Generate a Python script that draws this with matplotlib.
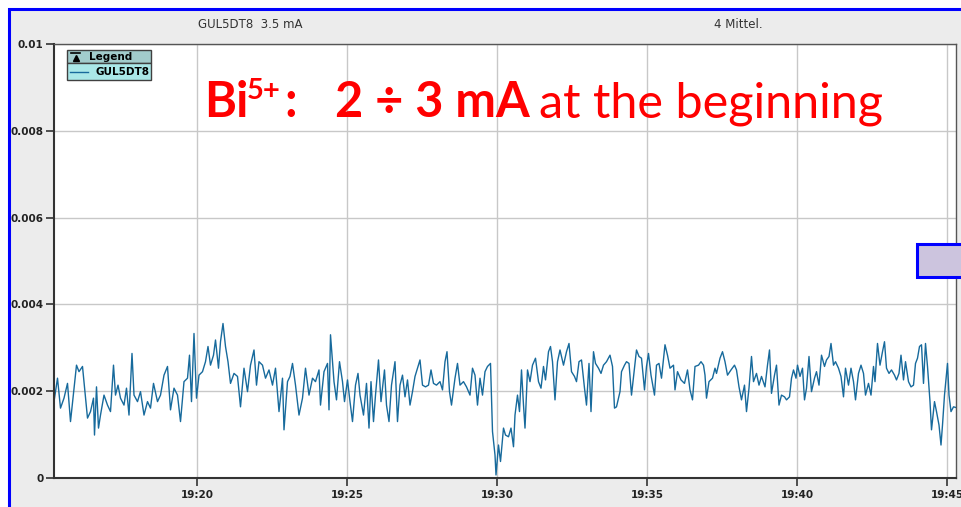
import numpy as np
import pandas as pd
import matplotlib
matplotlib.use('Agg')
import matplotlib.pyplot as plt
import matplotlib.dates as mdates
from matplotlib.patches import Rectangle
from matplotlib.lines import Line2D

# seconds after 19:15:00
t_sec = [14, 21, 27, 34, 41, 47, 54, 59, 64, 71, 77, 81, 87, 93, 95, 99, 103, 107, 114, 121,
         127, 133, 137, 142, 147, 154, 159, 164, 170, 174, 181, 187, 194, 201, 207, 213, 221, 227, 234, 241,
         247, 254, 261, 267, 274, 281, 285, 289, 294, 299, 304, 311, 317, 322, 327, 333, 337, 343, 347, 352,
         357, 362, 367, 374, 381, 387, 394, 401, 407, 414, 419, 424, 431, 437, 444, 451, 457, 464, 471, 474,
         481, 486, 491, 497, 504, 511, 517, 524, 531, 537, 544, 547, 554, 561, 564, 567, 574, 579, 585, 591,
         595, 601, 606, 611, 617, 622,
         626, 633, 639, 644, 648, 653, 657, 663, 668, 675, 679, 684, 689, 696, 701, 706, 711, 716, 721, 726,
         731, 736, 741, 746, 751, 757, 763, 768, 773, 779, 786, 791, 796, 800, 805, 809, 816, 821, 826, 833,
         839, 846, 851, 856, 861, 866, 871, 876, 881, 887, 891, 896, 898, 903, 907, 913, 917, 923, 928, 933,
         936, 941, 945, 949, 953, 956, 961, 966, 971, 977, 983, 988, 993, 997, 1003, 1007, 1011, 1016, 1021, 1026,
         1033, 1039, 1044, 1049, 1055, 1059, 1064, 1069, 1075, 1079, 1084, 1088, 1093, 1097, 1103, 1108, 1113, 1119, 1126, 1131,
         1135, 1139, 1146, 1149, 1155, 1159, 1164, 1169, 1175, 1179, 1184, 1189, 1195, 1199, 1203, 1208, 1215, 1219, 1224,
         1229, 1236, 1241, 1246, 1253, 1256, 1261, 1268, 1275, 1281, 1286, 1291, 1296, 1303, 1308, 1313, 1316, 1319, 1324, 1331,
         1336, 1339, 1346, 1351, 1356, 1361, 1368, 1375, 1379, 1384, 1389, 1395, 1399, 1404, 1409, 1413, 1419, 1424, 1429, 1436,
         1441, 1445, 1449, 1455, 1459, 1464, 1469, 1475, 1479, 1485, 1489, 1493, 1498, 1501, 1506, 1511, 1515, 1519, 1524, 1529,
         1535, 1539, 1544, 1549, 1555, 1559, 1564, 1568, 1573, 1577, 1583, 1588, 1593, 1597, 1603, 1608, 1613, 1617, 1623, 1628,
         1633, 1637, 1643, 1648, 1653, 1656, 1661, 1666, 1671, 1675, 1679, 1684, 1689, 1695, 1699, 1704, 1708, 1713, 1717, 1723,
         1728, 1733, 1737, 1741, 1745, 1749, 1753, 1757, 1761, 1766, 1769, 1775, 1779, 1784, 1788, 1791, 1795, 1799, 1801, 1804,
         1808, 1813, 1819]

# current in units of 1e-3
current_e3 = [1.76, 2.30, 1.61, 1.84, 2.18, 1.30, 2.07, 2.60, 2.45, 2.57, 1.84, 1.38, 1.53, 1.84, 0.99, 2.10, 1.15, 1.45, 1.91, 1.68,
              1.53, 2.60, 1.91, 2.14, 1.84, 1.68, 2.07, 1.45, 2.87, 1.91, 1.76, 1.99, 1.45, 1.76, 1.61, 2.18, 1.76, 1.91, 2.37, 2.57,
              1.57, 2.07, 1.91, 1.30, 2.22, 2.30, 2.83, 1.76, 3.33, 1.84, 2.37, 2.45, 2.68, 3.03, 2.60, 2.83, 3.18, 2.53, 3.14, 3.56,
              3.03, 2.68, 2.18, 2.41, 2.34, 1.64, 2.53, 1.99, 2.60, 2.95, 2.14, 2.68, 2.60, 2.30, 2.49, 2.14, 2.53, 1.53, 2.30, 1.11,
              2.22, 2.34, 2.64, 2.14, 1.45, 1.84, 2.53, 1.91, 2.30, 2.22, 2.49, 1.68, 2.45, 2.64, 1.57, 3.30, 2.22, 1.80, 2.68, 2.22,
              1.76, 2.26, 1.76, 1.30, 2.14, 2.41,
              1.91, 1.45, 2.18, 1.15, 2.22, 1.30, 1.91, 2.72, 1.76, 2.49, 1.68, 1.30, 2.14, 2.68, 1.30, 2.14, 2.37, 1.87, 2.26, 1.68,
              1.99, 2.34, 2.53, 2.72, 2.14, 2.10, 2.14, 2.49, 2.18, 2.14, 2.22, 2.03, 2.68, 2.91, 1.99, 1.68, 2.30, 2.64, 2.14, 2.22,
              2.10, 1.91, 2.53, 2.37, 1.68, 2.30, 1.91, 2.45, 2.57, 2.64, 1.07, 0.53, 0.07, 0.76, 0.38, 1.15, 0.99, 0.95, 1.15, 0.72,
              1.45, 1.91, 1.53, 2.49, 1.68, 1.15, 2.49, 2.22, 2.60, 2.76, 2.22, 2.07, 2.57, 2.26, 2.91, 3.03, 2.68, 1.80, 2.68, 2.95,
              2.60, 2.91, 3.10, 2.45, 2.34, 2.22, 2.68, 2.72, 2.07, 1.68, 2.64, 1.53, 2.91, 2.64, 2.53, 2.41, 2.60, 2.68, 2.83, 2.57,
              1.61, 1.64, 1.99, 2.45, 2.60, 2.68, 2.64, 1.91, 2.53, 2.95, 2.80, 2.76, 2.03, 2.57, 2.87, 2.37, 1.91, 2.60, 2.64,
              2.30, 3.07, 2.83, 2.53, 2.60, 2.03, 2.45, 2.26, 2.18, 2.49, 2.03, 1.80, 2.57, 2.60, 2.68, 2.60, 2.37, 1.84, 2.22, 2.30,
              2.53, 2.41, 2.76, 2.91, 2.68, 2.37, 2.49, 2.60, 2.49, 2.10, 1.80, 2.14, 1.53, 2.07, 2.80, 2.22, 2.41, 2.14, 2.34, 2.10,
              2.60, 2.95, 1.95, 2.37, 2.60, 1.68, 1.91, 1.87, 1.80, 1.87, 2.30, 2.49, 2.30, 2.60, 2.34, 2.53, 1.80, 2.07, 2.80, 1.99,
              2.30, 2.45, 2.14, 2.83, 2.57, 2.72, 2.80, 3.10, 2.60, 2.68, 2.53, 2.34, 1.87, 2.53, 2.14, 2.53, 2.22, 1.80, 2.41, 2.60,
              2.41, 1.91, 2.18, 1.91, 2.57, 2.22, 3.10, 2.60, 2.91, 3.14, 2.53, 2.41, 2.49, 2.37, 2.26, 2.41, 2.83, 2.26, 2.68, 2.22,
              2.10, 2.14, 2.64, 2.76, 3.03, 3.07, 2.18, 3.10, 2.57, 1.76, 1.11, 1.76, 1.53, 1.22, 0.76, 1.22, 1.91, 2.41, 2.64, 1.91,
              1.53, 1.64, 1.62]

y_ticks = [0, 0.002, 0.004, 0.006, 0.008, 0.01]
y_labels = ['0', '0.002', '0.004', '0.006', '0.008', '0.01']
header_left = 'GUL5DT8  3.5 mA'
header_right = '4 Mittel.'
series_name = 'GUL5DT8'

base = pd.Timestamp('2024-01-01 19:15:00')
times = base + pd.to_timedelta(t_sec, unit='s')
current = np.array(current_e3) * 1e-3

W, H = 961, 507
fig = plt.figure(figsize=(W / 100, H / 100), dpi=100)
fig.patch.set_facecolor('white')

def fx(x):
    return x / W

def fy(y):
    return 1 - y / H

# gray panel with blue frame
fig.add_artist(Rectangle((fx(9), fy(520)), fx(970), fy(9) - fy(520), transform=fig.transFigure,
                         facecolor='#ececec', edgecolor='#0000ff', lw=2.2, zorder=0))

ax = fig.add_axes([fx(54), fy(478), fx(956) - fx(54), fy(44) - fy(478)])
ax.set_facecolor('white')
ax.plot(times, current, color='#176a9c', lw=1.0)

ax.set_ylim(0, 0.01)
ax.set_xlim(base + pd.Timedelta(seconds=14), base + pd.Timedelta(seconds=1818))
ax.set_yticks(y_ticks)
ax.set_yticklabels(y_labels)
ax.xaxis.set_major_locator(mdates.MinuteLocator(byminute=range(0, 60, 5)))
ax.xaxis.set_major_formatter(mdates.DateFormatter('%H:%M'))
ax.grid(True, color='#c8c8c8', lw=1.0)
ax.set_axisbelow(True)
ax.tick_params(axis='both', direction='out', length=6, width=1.2, color='#333333',
               labelsize=7.5, labelcolor='#222222')
ax.tick_params(axis='y', pad=1.5)
ax.tick_params(axis='x', pad=3)
for lab in ax.get_xticklabels() + ax.get_yticklabels():
    lab.set_fontweight('bold')
for s in ['left', 'bottom']:
    ax.spines[s].set_color('#333333')
    ax.spines[s].set_linewidth(1.5)
for s in ['top', 'right']:
    ax.spines[s].set_color('#555555')
    ax.spines[s].set_linewidth(1.0)

# header texts
fig.text(fx(250), fy(25), header_left, ha='center', va='center', fontsize=8.5, color='#333333')
fig.text(fx(738), fy(25), header_right, ha='center', va='center', fontsize=8.5, color='#333333')

# legend box
lx0, lx1, ly0, ly1, ly2 = 67, 151, 50, 63, 80
fig.add_artist(Rectangle((fx(lx0), fy(ly1)), fx(lx1 - lx0), fy(ly0) - fy(ly1), transform=fig.transFigure,
                         facecolor='#a2cccc', edgecolor='#404040', lw=1.0, zorder=5))
fig.add_artist(Rectangle((fx(lx0), fy(ly2)), fx(lx1 - lx0), fy(ly1) - fy(ly2), transform=fig.transFigure,
                         facecolor='#aae8e8', edgecolor='#404040', lw=1.0, zorder=5))
fig.add_artist(Line2D([fx(71), fx(80)], [fy(53), fy(53)], transform=fig.transFigure, color='black', lw=1.2, zorder=6))
fig.add_artist(Line2D([fx(75.5)], [fy(58)], transform=fig.transFigure, marker='^', ms=5, color='black', lw=0, zorder=6))
fig.text(fx(89), fy(57), 'Legend', ha='left', va='center', fontsize=7.5, fontweight='bold', color='black', zorder=6)
fig.add_artist(Line2D([fx(70), fx(88)], [fy(72), fy(72)], transform=fig.transFigure, color='#176a9c', lw=1.0, zorder=6))
fig.text(fx(95), fy(72), series_name, ha='left', va='center', fontsize=7.5, fontweight='bold', color='black', zorder=6)

# purple marker box at the right
fig.add_artist(Rectangle((fx(917), fy(277)), fx(60), fy(244) - fy(277), transform=fig.transFigure,
                         facecolor='#ccc4de', edgecolor='#0000ff', lw=2.2, zorder=6))

# red annotation
red = '#ff0000'
fam = ['Lato', 'DejaVu Sans']
fs = 35
fig.text(fx(204), fy(117), 'Bi', fontsize=fs, fontweight='bold', color=red, family=fam, va='baseline', zorder=7)
fig.text(fx(247), fy(99), '5+', fontsize=fs * 0.6, fontweight='bold', color=red, family=fam, va='baseline', zorder=7)
fig.text(fx(284), fy(117), ':', fontsize=fs, fontweight='bold', color=red, family=fam, va='baseline', zorder=7)
fig.text(fx(335), fy(117), '2 \u00f7 3 mA', fontsize=fs, fontweight='bold', color=red, family=fam, va='baseline', zorder=7)
fig.text(fx(539), fy(117), 'at the beginning', fontsize=fs, color=red, family=fam, va='baseline', zorder=7)

fig.savefig('out.png', dpi=100)
